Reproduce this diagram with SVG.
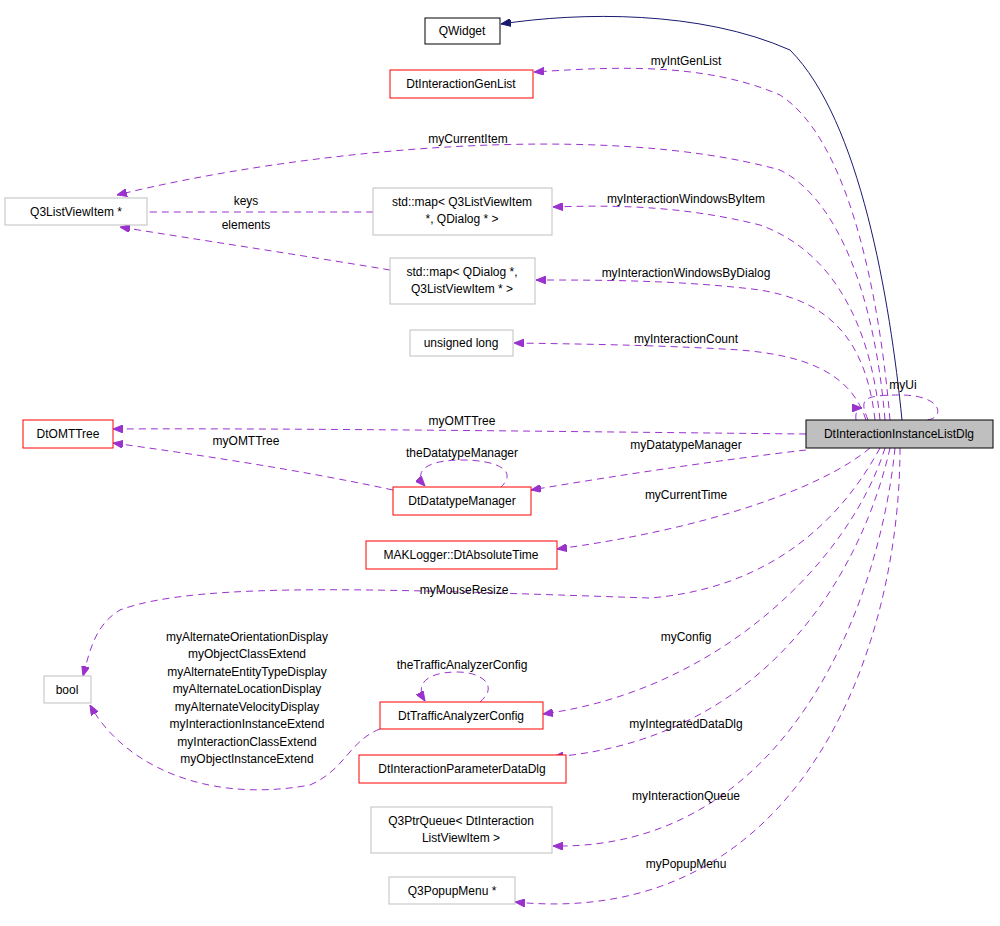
<svg xmlns="http://www.w3.org/2000/svg" width="1000" height="926" viewBox="0 0 1000 926">
<style>
text{font-family:"Liberation Sans",Arial,sans-serif;font-size:12px;fill:#000}
.n rect{stroke-width:1}
.r{fill:#fff;stroke:#ff0000}
.g{fill:#fff;stroke:#bfbfbf}
.m{fill:#bfbfbf;stroke:#000}
.b{fill:#fff;stroke:#000}
.e{fill:none;stroke:#9a32cd;stroke-dasharray:7,5}
.q{fill:none;stroke:#191970}
</style>
<defs>
<marker id="a" markerWidth="10" markerHeight="8" refX="10" refY="4" orient="auto" markerUnits="userSpaceOnUse"><path d="M0,0 L10,4 L0,8 z" fill="#9a32cd" stroke="#9a32cd"/></marker>
<marker id="an" markerWidth="10" markerHeight="8" refX="10" refY="4" orient="auto" markerUnits="userSpaceOnUse"><path d="M0,0 L10,4 L0,8 z" fill="#191970" stroke="#191970"/></marker>
</defs>
<g id="edges">
<path class="q" d="M902,420 C890,300 860,120 790,50 C700,10 580,12 501,24" marker-end="url(#an)"/>
<path class="e" d="M890,420 C880,300 850,140 780,95 C700,60 600,68 534,72" marker-end="url(#a)"/>
<path class="e" d="M885,420 C875,300 840,200 780,170 C600,120 300,150 117,195" marker-end="url(#a)"/>
<path class="e" d="M880,420 C870,320 830,250 760,225 C680,205 610,205 553,207" marker-end="url(#a)"/>
<path class="e" d="M373,212 C300,212 200,212 132,212" marker-end="url(#a)"/>
<path class="e" d="M390,270 C300,255 200,240 120,227" marker-end="url(#a)"/>
<path class="e" d="M875,420 C865,330 820,300 760,290 C680,280 600,280 536,280" marker-end="url(#a)"/>
<path class="e" d="M866,420 C850,370 800,355 740,350 C660,345 580,344 514,343" marker-end="url(#a)"/>
<path class="e" d="M868,420 C860,400 860,395 900,395 C945,395 945,420 925,420"/>
<path class="e" d="M856,420 C855,412 858,408 862,408" marker-end="url(#a)"/>
<path class="e" d="M806,434 C600,432 300,428 113,429" marker-end="url(#a)"/>
<path class="e" d="M393,490 C300,470 200,455 113,443" marker-end="url(#a)"/>
<path class="e" d="M500,488 C520,470 495,460 462,460 C420,460 415,475 425,486" marker-end="url(#a)"/>
<path class="e" d="M806,450 C720,460 620,475 531,490" marker-end="url(#a)"/>
<path class="e" d="M870,448 C820,490 700,530 557,549" marker-end="url(#a)"/>
<path class="e" d="M880,448 C830,540 750,590 650,598 C400,590 200,580 120,610 C95,625 90,650 83,676" marker-end="url(#a)"/>
<path class="e" d="M885,448 C850,560 720,690 543,714" marker-end="url(#a)"/>
<path class="e" d="M380,729 C350,740 345,770 310,785 C200,805 120,760 90,705" marker-end="url(#a)"/>
<path class="e" d="M480,702 C500,685 480,672 458,672 C425,672 415,685 425,701" marker-end="url(#a)"/>
<path class="e" d="M890,448 C860,580 760,740 553,757" marker-end="url(#a)"/>
<path class="e" d="M895,448 C880,600 790,850 553,846" marker-end="url(#a)"/>
<path class="e" d="M900,448 C900,650 800,930 515,902" marker-end="url(#a)"/>
</g>
<g id="labels">
<text x="686" y="65" text-anchor="middle">myIntGenList</text>
<text x="468" y="143" text-anchor="middle">myCurrentItem</text>
<text x="686" y="203" text-anchor="middle">myInteractionWindowsByItem</text>
<text x="246" y="205" text-anchor="middle">keys</text>
<text x="246" y="229" text-anchor="middle">elements</text>
<text x="686" y="277" text-anchor="middle">myInteractionWindowsByDialog</text>
<text x="686" y="343" text-anchor="middle">myInteractionCount</text>
<text x="903" y="389" text-anchor="middle">myUi</text>
<text x="462" y="425" text-anchor="middle">myOMTTree</text>
<text x="246" y="445" text-anchor="middle">myOMTTree</text>
<text x="462" y="457" text-anchor="middle">theDatatypeManager</text>
<text x="686" y="449" text-anchor="middle">myDatatypeManager</text>
<text x="686" y="499" text-anchor="middle">myCurrentTime</text>
<text x="464" y="594" text-anchor="middle">myMouseResize</text>
<text x="686" y="641" text-anchor="middle">myConfig</text>
<text x="462" y="669" text-anchor="middle">theTrafficAnalyzerConfig</text>
<text x="686" y="728" text-anchor="middle">myIntegratedDataDlg</text>
<text x="686" y="800" text-anchor="middle">myInteractionQueue</text>
<text x="686" y="868" text-anchor="middle">myPopupMenu</text>
<g text-anchor="middle">
<text x="247" y="641">myAlternateOrientationDisplay</text>
<text x="247" y="658">myObjectClassExtend</text>
<text x="247" y="676">myAlternateEntityTypeDisplay</text>
<text x="247" y="693">myAlternateLocationDisplay</text>
<text x="247" y="711">myAlternateVelocityDisplay</text>
<text x="247" y="728">myInteractionInstanceExtend</text>
<text x="247" y="746">myInteractionClassExtend</text>
<text x="247" y="763">myObjectInstanceExtend</text>
</g>
</g>
<g id="n-main" class="n"><rect class="m" x="806" y="420" width="187" height="28"/><text x="899" y="438" text-anchor="middle">DtInteractionInstanceListDlg</text></g>
<g id="n-qwidget" class="n"><rect class="b" x="425" y="18" width="75" height="26"/><text x="462" y="35" text-anchor="middle">QWidget</text></g>
<g id="n-genlist" class="n"><rect class="r" x="390" y="70" width="143" height="28"/><text x="461" y="88" text-anchor="middle">DtInteractionGenList</text></g>
<g id="n-q3item" class="n"><rect class="g" x="5" y="198" width="142" height="27"/><text x="76" y="216" text-anchor="middle">Q3ListViewItem *</text></g>
<g id="n-map1" class="n"><rect class="g" x="373" y="188" width="179" height="47"/><text x="462" y="206" text-anchor="middle">std::map&lt; Q3ListViewItem</text><text x="462" y="223" text-anchor="middle">*, QDialog * &gt;</text></g>
<g id="n-map2" class="n"><rect class="g" x="390" y="258" width="145" height="46"/><text x="462" y="276" text-anchor="middle">std::map&lt; QDialog *,</text><text x="462" y="293" text-anchor="middle">Q3ListViewItem * &gt;</text></g>
<g id="n-ulong" class="n"><rect class="g" x="410" y="330" width="103" height="26"/><text x="461" y="347" text-anchor="middle">unsigned long</text></g>
<g id="n-omt" class="n"><rect class="r" x="23" y="420" width="90" height="28"/><text x="68" y="438" text-anchor="middle">DtOMTTree</text></g>
<g id="n-dtm" class="n"><rect class="r" x="393" y="487" width="138" height="28"/><text x="462" y="505" text-anchor="middle">DtDatatypeManager</text></g>
<g id="n-abs" class="n"><rect class="r" x="366" y="541" width="191" height="28"/><text x="461" y="559" text-anchor="middle">MAKLogger::DtAbsoluteTime</text></g>
<g id="n-bool" class="n"><rect class="g" x="44" y="676" width="47" height="27"/><text x="67" y="694" text-anchor="middle">bool</text></g>
<g id="n-tac" class="n"><rect class="r" x="380" y="702" width="163" height="27"/><text x="461" y="720" text-anchor="middle">DtTrafficAnalyzerConfig</text></g>
<g id="n-ipd" class="n"><rect class="r" x="359" y="755" width="207" height="28"/><text x="462" y="773" text-anchor="middle">DtInteractionParameterDataDlg</text></g>
<g id="n-queue" class="n"><rect class="g" x="371" y="807" width="181" height="46"/><text x="461" y="825" text-anchor="middle">Q3PtrQueue&lt; DtInteraction</text><text x="461" y="842" text-anchor="middle">ListViewItem &gt;</text></g>
<g id="n-popup" class="n"><rect class="g" x="389" y="877" width="126" height="27"/><text x="452" y="895" text-anchor="middle">Q3PopupMenu *</text></g>
</svg>
